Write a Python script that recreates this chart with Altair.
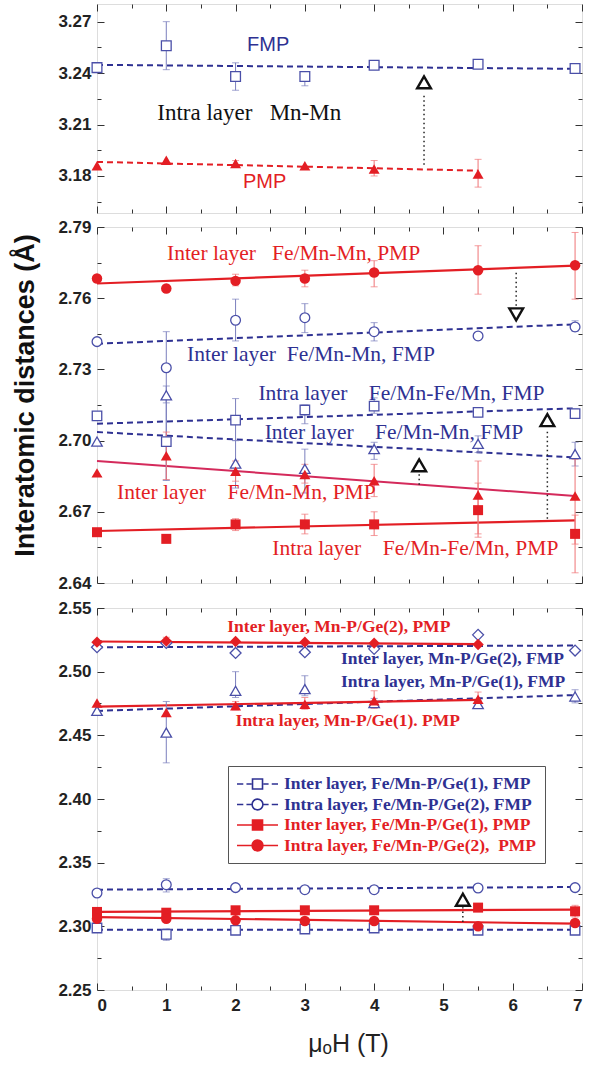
import altair as alt
import pandas as pd

# ---------------- data ----------------
X7 = [0, 1, 2, 3, 4, 5.5, 6.9]
X6 = [0, 1, 2, 3, 4, 5.5]
FIT7 = [0, 6.9]
FIT6 = [0, 5.5]

# panel 1 : intra layer Mn-Mn
p1_fmp = [3.2432, 3.2560, 3.2380, 3.2380, 3.2446, 3.2452, 3.2427]
p1_fmp_lo = [None, 3.2420, 3.2300, 3.2326, 3.2432, None, None]
p1_fmp_hi = [None, 3.2700, 3.2460, 3.2404, 3.2458, None, None]
p1_fmp_fit = [3.2448, 3.2425]
p1_pmp = [3.1859, 3.1892, 3.1873, 3.1859, 3.1840, 3.1811]
p1_pmp_lo = [None, None, 3.1855, None, 3.1800, 3.1735]
p1_pmp_hi = [None, None, 3.1890, None, 3.1890, 3.1897]
p1_pmp_fit = [3.1882, 3.1831]

# panel 2
p2_inter_pmp_c = [2.7683, 2.7641, 2.7673, 2.7683, 2.7708, 2.7718, 2.7739]
p2_inter_pmp_c_lo = [None, None, 2.7652, 2.7648, 2.7648, 2.7617, 2.7596]
p2_inter_pmp_c_hi = [None, None, 2.7701, 2.7718, 2.7758, 2.7821, 2.7877]
p2_inter_pmp_c_fit = [2.7662, 2.7737]

p2_inter_fmp_c = [2.7417, 2.7307, 2.7507, 2.7518, 2.7459, 2.7441, 2.7479]
p2_inter_fmp_c_lo = [None, 2.7159, 2.7420, 2.7455, 2.7420, 2.7425, 2.7460]
p2_inter_fmp_c_hi = [None, 2.7459, 2.7596, 2.7577, 2.7497, 2.7455, 2.7505]
p2_inter_fmp_c_fit = [2.7408, 2.7490]

p2_intra_fmp_s = [2.7104, 2.6996, 2.7086, 2.7129, 2.7145, 2.7119, 2.7114]
p2_intra_fmp_s_lo = [None, 2.6833, 2.7000, 2.7071, 2.7115, 2.7100, 2.7095]
p2_intra_fmp_s_hi = [None, 2.7179, 2.7177, 2.7150, 2.7180, 2.7138, 2.7133]
p2_intra_fmp_s_fit = [2.7071, 2.7136]

p2_inter_fmp_t = [2.6996, 2.7191, 2.6903, 2.6881, 2.6964, 2.6986, 2.6943]
p2_inter_fmp_t_lo = [None, 2.6833, 2.6800, 2.6779, 2.6921, 2.6950, 2.6893]
p2_inter_fmp_t_hi = [None, 2.7230, 2.7000, 2.6964, 2.6993, 2.7020, 2.6993]
p2_inter_fmp_t_fit = [2.7036, 2.6929]

p2_inter_pmp_t = [2.6864, 2.6936, 2.6871, 2.6857, 2.6831, 2.6771, 2.6767]
p2_inter_pmp_t_lo = [None, 2.6836, 2.6829, 2.6821, 2.6764, 2.6607, 2.6564]
p2_inter_pmp_t_hi = [None, 2.7036, 2.6914, 2.6900, 2.6900, 2.6914, 2.6921]
p2_inter_pmp_t_fit = [2.6914, 2.6767]

p2_intra_pmp_s = [2.6614, 2.6586, 2.6647, 2.6647, 2.6647, 2.6707, 2.6607]
p2_intra_pmp_s_lo = [None, None, 2.6621, 2.6607, 2.6600, 2.6593, 2.6443]
p2_intra_pmp_s_hi = [None, None, 2.6671, 2.6690, 2.6700, 2.6821, 2.6686]
p2_intra_pmp_s_fit = [2.6619, 2.6664]

# panel 3
p3_inter_g2_pmp = [2.5232, 2.5240, 2.5237, 2.5232, 2.5224, 2.5213]
p3_inter_g2_pmp_lo = [None, 2.5210, None, None, None, None]
p3_inter_g2_pmp_hi = [None, 2.5270, None, None, None, None]
p3_inter_g2_pmp_fit = [2.5237, 2.5216]

p3_inter_g2_fmp = [2.5192, 2.5226, 2.5147, 2.5153, 2.5179, 2.5289, 2.5166]
p3_inter_g2_fmp_fit = [2.5192, 2.5205]

p3_intra_g1_fmp = [2.4692, 2.4521, 2.4850, 2.4863, 2.4753, 2.4745, 2.4805]
p3_intra_g1_fmp_lo = [None, 2.4284, 2.4797, 2.4811, 2.4720, 2.4720, 2.4755]
p3_intra_g1_fmp_hi = [None, 2.4766, 2.5000, 2.4968, 2.4790, 2.4770, 2.4858]
p3_intra_g1_fmp_fit = [2.4692, 2.4816]

p3_intra_g1_pmp = [2.4753, 2.4679, 2.4732, 2.4745, 2.4771, 2.4784]
p3_intra_g1_pmp_lo = [None, None, 2.4700, 2.4705, 2.4711, 2.4730]
p3_intra_g1_pmp_hi = [None, None, 2.4765, 2.4797, 2.4850, 2.4840]
p3_intra_g1_pmp_fit = [2.4726, 2.4779]

p3_intra_g2_fmp = [2.3262, 2.3327, 2.3304, 2.3288, 2.3288, 2.3301, 2.3304]
p3_intra_g2_fmp_lo = [None, 2.3270, None, None, None, None, None]
p3_intra_g2_fmp_hi = [None, 2.3374, None, None, None, None, None]
p3_intra_g2_fmp_fit = [2.3288, 2.3309]

p3_inter_g1_pmp = [2.3113, 2.3107, 2.3126, 2.3126, 2.3126, 2.3147, 2.3118]
p3_inter_g1_pmp_lo = [None, None, None, None, None, None, 2.3073]
p3_inter_g1_pmp_hi = [None, None, None, None, None, None, 2.3165]
p3_inter_g1_pmp_fit = [2.3113, 2.3131]

p3_intra_g2_pmp = [2.3060, 2.3060, 2.3047, 2.3042, 2.3042, 2.3000, 2.3026]
p3_intra_g2_pmp_fit = [2.3073, 2.3021]

p3_inter_g1_fmp = [2.2987, 2.2937, 2.2969, 2.2979, 2.2987, 2.2969, 2.2969]
p3_inter_g1_fmp_lo = [None, 2.2890, None, None, None, None, None]
p3_inter_g1_fmp_hi = [None, 2.2982, None, None, None, None, None]
p3_inter_g1_fmp_fit = [2.2974, 2.2974]

LEGEND_LABELS = [
    "Inter layer, Fe/Mn-P/Ge(1), FMP",
    "Intra layer, Fe/Mn-P/Ge(2), FMP",
    "Inter layer, Fe/Mn-P/Ge(1), PMP",
    "Intra layer, Fe/Mn-P/Ge(2),\u00a0 PMP",
]

NB = "\u00a0"
P1_TEXT = ["FMP", "Intra layer" + NB * 3 + "Mn-Mn", "PMP"]
P1_TEXT_X = [2.47, 0.87, 2.42]
P1_TEXT_Y = [3.2566, 3.2165, 3.1764]

P2_TEXT = [
    "Inter layer" + NB * 3 + "Fe/Mn-Mn, PMP",
    "Inter layer" + NB * 2 + "Fe/Mn-Mn, FMP",
    "Intra layer" + NB * 4 + "Fe/Mn-Fe/Mn, FMP",
    "Inter layer" + NB * 4 + "Fe/Mn-Mn, FMP",
    "Inter layer" + NB * 4 + "Fe/Mn-Mn, PMP",
    "Intra layer" + NB * 4 + "Fe/Mn-Fe/Mn, PMP",
]
P2_TEXT_X = [1.01, 1.30, 2.33, 2.42, 0.29, 2.53]
P2_TEXT_Y = [2.7786, 2.7361, 2.7197, 2.7031, 2.6779, 2.6543]

P3_TEXT = [
    "Inter layer, Mn-P/Ge(2), PMP",
    "Inter layer, Mn-P/Ge(2), FMP",
    "Intra layer, Mn-P/Ge(1), FMP",
    "Intra layer, Mn-P/Ge(1). PMP",
]
P3_TEXT_X = [1.88, 3.52, 3.52, 2.00]
P3_TEXT_Y = [2.5350, 2.5100, 2.4916, 2.4613]

# difference markers (x, marker y, dotted from, dotted to)
P1_MARK = [(4.72, 3.2346, 3.1865, 3.2280, "triangle-up")]
P2_MARK = [(6.05, 2.7532, 2.7568, 2.7718, "triangle-down"),
           (4.65, 2.6896, 2.6814, 2.6868, "triangle-up"),
           (6.50, 2.7086, 2.6671, 2.7050, "triangle-up")]
P3_MARK = [(5.28, 2.3209, 2.3034, 2.3150, "triangle-up")]

P1_DOM, P1_MAJ, P1_MIN = [3.1584, 3.2803], [3.18, 3.21, 3.24, 3.27], [3.165, 3.195, 3.225, 3.255]
P2_DOM, P2_MAJ, P2_MIN = [2.64, 2.79], [2.64, 2.67, 2.70, 2.73, 2.76, 2.79], [2.655, 2.685, 2.715, 2.745, 2.775]
P3_DOM, P3_MAJ, P3_MIN = [2.25, 2.55], [2.25, 2.30, 2.35, 2.40, 2.45, 2.50, 2.55], [2.275, 2.325, 2.375, 2.425, 2.475, 2.525]
X_MAJ = [0, 1, 2, 3, 4, 5, 6, 7]
X_MIN = [0.5, 1.5, 2.5, 3.5, 4.5, 5.5, 6.5]

# ---------------- style ----------------
W = 485
H1, H2, H3 = 209, 356, 382
SERIF = "Liberation Serif"
SANS = "Liberation Sans"
BLUE = "#2e3192"
BLUE_MK = "#4a4fa8"
BLUE_ERR = "#7b7fbd"
RED = "#e31e24"
RED_ERR = "#ef7476"
CRIMSON = "#d42a5b"


def xscale():
    return alt.Scale(domain=[0, 7], nice=False, zero=False)


def yscale(dom):
    return alt.Scale(domain=dom, nice=False, zero=False)


def frame_layers(dom, major, minor, H, ytitle=None, xlabels=False, pad_bottom=False):
    base = pd.DataFrame({"x": [0.0], "y": [dom[0]]})
    common = dict(grid=False, domain=False, tickColor="#333", tickWidth=1, labels=False)
    layers = []
    ylab = alt.Axis(orient="left", values=major, ticks=False, tickSize=0, labelPadding=6,
                    labelFont=SANS, labelFontWeight="bold", labelFontSize=17, labelColor="#222",
                    format=".2f", grid=False, domain=False,
                    titleFont=SANS, titleFontWeight="bold", titleFontSize=27, titlePadding=18,
                    titleColor="#111", titleY=168)
    if xlabels:
        xlab = alt.X("x:Q", scale=xscale(), title="\u03bc\u2092H (T)",
                     axis=alt.Axis(orient="bottom", values=X_MAJ, ticks=False, tickSize=0,
                                   labelPadding=7, labelFont=SANS, labelFontWeight="bold",
                                   labelFontSize=17, labelColor="#222", format="d", grid=False,
                                   domain=False, titleFont=SANS, titleFontWeight="normal",
                                   titleFontSize=25, titlePadding=18, titleColor="#222",
                                   titleX=251))
    elif pad_bottom:
        # invisible spacer labels: only widen the gap below this panel
        xlab = alt.X("x:Q", scale=xscale(), title=None,
                     axis=alt.Axis(orient="bottom", values=[0], ticks=False, tickSize=0,
                                   labelPadding=3, labelFontSize=11, labelOpacity=0,
                                   format="d", grid=False, domain=False))
    else:
        xlab = alt.X("x:Q", scale=xscale(), axis=None)
    layers.append(alt.Chart(base).mark_point(opacity=0).encode(
        x=xlab, y=alt.Y("y:Q", scale=yscale(dom), axis=ylab, title=ytitle)))
    specs = [("right", "top", major, X_MAJ, 7), ("right", "top", minor, X_MIN, 4),
             ("left", "bottom", major, X_MAJ, 7), ("left", "bottom", minor, X_MIN, 4)]
    for yo, xo, yv, xv, ts in specs:
        layers.append(alt.Chart(base).mark_point(opacity=0).encode(
            x=alt.X("x:Q", scale=xscale(), title=None,
                    axis=alt.Axis(orient=xo, offset=-H, values=xv, tickSize=ts, **common)),
            y=alt.Y("y:Q", scale=yscale(dom), title=None,
                    axis=alt.Axis(orient=yo, offset=-W, values=yv, tickSize=ts, **common))))
    return layers


def series(dom, xv, yv, fitx, fity, mcolor, shape, filled, size, lcolor, dash,
           ecolor, lo=None, hi=None, lw=2.0):
    X = alt.X("x:Q", scale=xscale(), axis=None)
    Y = alt.Y("y:Q", scale=yscale(dom), axis=None)
    lines, errs, pts = [], [], []
    lk = dict(color=lcolor, strokeWidth=lw)
    if dash:
        lk["strokeDash"] = [6, 4]
    lines.append(alt.Chart(pd.DataFrame({"x": fitx, "y": fity})).mark_line(**lk).encode(x=X, y=Y))
    if lo is not None:
        edf = pd.DataFrame({"x": xv, "lo": lo, "hi": hi}).dropna()
        errs.append(alt.Chart(edf).mark_rule(color=ecolor, strokeWidth=1).encode(
            x=X, y=alt.Y("lo:Q", scale=yscale(dom), axis=None), y2="hi:Q"))
        cdf = pd.concat([edf[["x", "lo"]].rename(columns={"lo": "v"}),
                         edf[["x", "hi"]].rename(columns={"hi": "v"})])
        errs.append(alt.Chart(cdf).mark_tick(orient="horizontal", size=7, thickness=1,
                                             color=ecolor).encode(
            x=X, y=alt.Y("v:Q", scale=yscale(dom), axis=None)))
    pk = dict(shape=shape, size=size, opacity=1, strokeWidth=1.3)
    if filled:
        pk.update(filled=True, color=mcolor)
    else:
        pk.update(filled=False, stroke=mcolor, fill="white")
    pts.append(alt.Chart(pd.DataFrame({"x": xv, "y": yv})).mark_point(**pk).encode(x=X, y=Y))
    return lines, errs, pts


def texts(dom, labels, xs_, ys_, colors, font, size, weight, aligns):
    out = []
    for t, x, y, c, a in zip(labels, xs_, ys_, colors, aligns):
        out.append(alt.Chart(pd.DataFrame({"x": [x], "y": [y], "t": [t]})).mark_text(
            align=a, baseline="middle", font=font, fontSize=size, fontWeight=weight,
            color=c).encode(x=alt.X("x:Q", scale=xscale(), axis=None),
                            y=alt.Y("y:Q", scale=yscale(dom), axis=None), text="t:N"))
    return out


def marks(dom, items):
    out = []
    for x, ym, a, b, shp in items:
        out.append(alt.Chart(pd.DataFrame({"x": [x], "a": [a], "b": [b]})).mark_rule(
            color="#222", strokeWidth=1.5, strokeDash=[1.5, 3]).encode(
            x=alt.X("x:Q", scale=xscale(), axis=None),
            y=alt.Y("a:Q", scale=yscale(dom), axis=None), y2="b:Q"))
        out.append(alt.Chart(pd.DataFrame({"x": [x], "y": [ym]})).mark_point(
            shape=shp, size=190, filled=False, stroke="#111", fill="white",
            strokeWidth=2.4, opacity=1).encode(
            x=alt.X("x:Q", scale=xscale(), axis=None),
            y=alt.Y("y:Q", scale=yscale(dom), axis=None)))
    return out


def assemble(groups):
    lines, errs, pts = [], [], []
    for l, e, p in groups:
        lines += l
        errs += e
        pts += p
    return lines + errs + pts


# ---------------- panel 1 ----------------
g1 = [
    series(P1_DOM, X7, p1_fmp, FIT7, p1_fmp_fit, BLUE_MK, "square", False, 95, BLUE, True,
           BLUE_ERR, p1_fmp_lo, p1_fmp_hi),
    series(P1_DOM, X6, p1_pmp, FIT6, p1_pmp_fit, RED, "triangle-up", True, 120, RED, True,
           RED_ERR, p1_pmp_lo, p1_pmp_hi),
]
panel1 = alt.layer(
    *frame_layers(P1_DOM, P1_MAJ, P1_MIN, H1),
    *assemble(g1),
    *marks(P1_DOM, P1_MARK),
    *texts(P1_DOM, [P1_TEXT[0]], [P1_TEXT_X[0]], [P1_TEXT_Y[0]], [BLUE], SANS, 20, "normal", ["center"]),
    *texts(P1_DOM, [P1_TEXT[1]], [P1_TEXT_X[1]], [P1_TEXT_Y[1]], ["#111"], SERIF, 23, "normal", ["left"]),
    *texts(P1_DOM, [P1_TEXT[2]], [P1_TEXT_X[2]], [P1_TEXT_Y[2]], [RED], SANS, 20, "normal", ["center"]),
).resolve_axis(x="independent", y="independent").properties(width=W, height=H1)

# ---------------- panel 2 ----------------
g2 = [
    series(P2_DOM, X7, p2_inter_pmp_c, FIT7, p2_inter_pmp_c_fit, RED, "circle", True, 110, RED,
           False, RED_ERR, p2_inter_pmp_c_lo, p2_inter_pmp_c_hi, 2.2),
    series(P2_DOM, X7, p2_inter_fmp_c, FIT7, p2_inter_fmp_c_fit, BLUE_MK, "circle", False, 95,
           BLUE, True, BLUE_ERR, p2_inter_fmp_c_lo, p2_inter_fmp_c_hi),
    series(P2_DOM, X7, p2_intra_fmp_s, FIT7, p2_intra_fmp_s_fit, BLUE_MK, "square", False, 90,
           BLUE, True, BLUE_ERR, p2_intra_fmp_s_lo, p2_intra_fmp_s_hi),
    series(P2_DOM, X7, p2_inter_fmp_t, FIT7, p2_inter_fmp_t_fit, BLUE_MK, "triangle-up", False,
           110, BLUE, True, BLUE_ERR, p2_inter_fmp_t_lo, p2_inter_fmp_t_hi),
    series(P2_DOM, X7, p2_inter_pmp_t, FIT7, p2_inter_pmp_t_fit, RED, "triangle-up", True, 120,
           CRIMSON, False, RED_ERR, p2_inter_pmp_t_lo, p2_inter_pmp_t_hi, 2.0),
    series(P2_DOM, X7, p2_intra_pmp_s, FIT7, p2_intra_pmp_s_fit, RED, "square", True, 100, RED,
           False, RED_ERR, p2_intra_pmp_s_lo, p2_intra_pmp_s_hi, 2.2),
]
p2_colors = [RED, BLUE, BLUE, BLUE, RED, RED]
panel2 = alt.layer(
    *frame_layers(P2_DOM, P2_MAJ, P2_MIN, H2, ytitle="Interatomic distances  (\u00c5)",
                  pad_bottom=True),
    *assemble(g2),
    *marks(P2_DOM, P2_MARK),
    *texts(P2_DOM, P2_TEXT, P2_TEXT_X, P2_TEXT_Y, p2_colors, SERIF, 21.5, "normal", ["left"] * 6),
).resolve_axis(x="independent", y="independent").properties(width=W, height=H2)

# ---------------- panel 3 ----------------
g3 = [
    series(P3_DOM, X7, p3_inter_g2_fmp, FIT7, p3_inter_g2_fmp_fit, BLUE_MK, "diamond", False,
           120, BLUE, True, BLUE_ERR),
    series(P3_DOM, X6, p3_inter_g2_pmp, FIT6, p3_inter_g2_pmp_fit, RED, "diamond", True, 130,
           RED, False, RED_ERR, p3_inter_g2_pmp_lo, p3_inter_g2_pmp_hi, 2.2),
    series(P3_DOM, X7, p3_intra_g1_fmp, FIT7, p3_intra_g1_fmp_fit, BLUE_MK, "triangle-up", False,
           110, BLUE, True, BLUE_ERR, p3_intra_g1_fmp_lo, p3_intra_g1_fmp_hi),
    series(P3_DOM, X6, p3_intra_g1_pmp, FIT6, p3_intra_g1_pmp_fit, RED, "triangle-up", True, 120,
           RED, False, RED_ERR, p3_intra_g1_pmp_lo, p3_intra_g1_pmp_hi, 2.2),
    series(P3_DOM, X7, p3_intra_g2_fmp, FIT7, p3_intra_g2_fmp_fit, BLUE_MK, "circle", False, 95,
           BLUE, True, BLUE_ERR, p3_intra_g2_fmp_lo, p3_intra_g2_fmp_hi),
    series(P3_DOM, X7, p3_inter_g1_fmp, FIT7, p3_inter_g1_fmp_fit, BLUE_MK, "square", False, 90,
           BLUE, True, BLUE_ERR, p3_inter_g1_fmp_lo, p3_inter_g1_fmp_hi),
    series(P3_DOM, X7, p3_inter_g1_pmp, FIT7, p3_inter_g1_pmp_fit, RED, "square", True, 100, RED,
           False, RED_ERR, p3_inter_g1_pmp_lo, p3_inter_g1_pmp_hi, 2.2),
    series(P3_DOM, X7, p3_intra_g2_pmp, FIT7, p3_intra_g2_pmp_fit, RED, "circle", True, 110, RED,
           False, RED_ERR, None, None, 2.2),
]
p3_colors = [RED, BLUE, BLUE, RED]

# legend glyphs: a line (dashed or solid) with the marker in its middle
SQ = "M0.724,-0.556H1.836V0.556H0.724Z"
CI = "M0.68,0A0.6,0.6,0,1,0,1.88,0A0.6,0.6,0,1,0,0.68,0Z"
DL = "M-1,0H-0.3M0.05,0H0.62"
DR = "M1.94,0H2.51M2.86,0H3.56"
SOLID = "M-1,0H3.56"
legend_shapes = [DL + SQ + DR, DL + CI + DR, SOLID + SQ, SOLID + CI]
leg = alt.Legend(orient="none", legendX=131, legendY=158, title=None, symbolSize=324,
                 symbolStrokeWidth=1.6, symbolFillColor="white", symbolStrokeColor="black",
                 symbolOpacity=1, labelFont=SERIF, labelFontWeight="bold", labelFontSize=17.5,
                 labelOffset=28, rowPadding=1.5, padding=8, strokeColor="#555",
                 fillColor="white", labelLimit=400,
                 labelColor=alt.ExprRef(expr="indexof(datum.value,'FMP')>=0 ? '#2e3192' : '#e31e24'"))
legend_layer = alt.Chart(pd.DataFrame({"lg": LEGEND_LABELS})).mark_point(opacity=0).encode(
    shape=alt.Shape("lg:N", scale=alt.Scale(domain=LEGEND_LABELS, range=legend_shapes), legend=leg),
    fill=alt.Fill("lg:N", scale=alt.Scale(domain=LEGEND_LABELS, range=["white", "white", RED, RED]), legend=leg),
    stroke=alt.Stroke("lg:N", scale=alt.Scale(domain=LEGEND_LABELS, range=[BLUE, BLUE, RED, RED]), legend=leg),
)

panel3 = alt.layer(
    *frame_layers(P3_DOM, P3_MAJ, P3_MIN, H3, xlabels=True),
    *assemble(g3),
    *marks(P3_DOM, P3_MARK),
    *texts(P3_DOM, P3_TEXT, P3_TEXT_X, P3_TEXT_Y, p3_colors, SERIF, 17.5, "bold", ["left"] * 4),
    legend_layer,
).resolve_axis(x="independent", y="independent").properties(width=W, height=H3)

chart = alt.vconcat(panel1, panel2, panel3, spacing=0).resolve_scale(
    shape="independent", fill="independent", stroke="independent"
).resolve_legend(
    shape="independent", fill="independent", stroke="independent"
).properties(
    padding={"left": 11, "top": 3, "right": 5, "bottom": 5}
).configure_view(stroke="#333", strokeWidth=1.2).configure(background="white")

chart.save("out.html", embed_options={"renderer": "svg", "actions": False})
